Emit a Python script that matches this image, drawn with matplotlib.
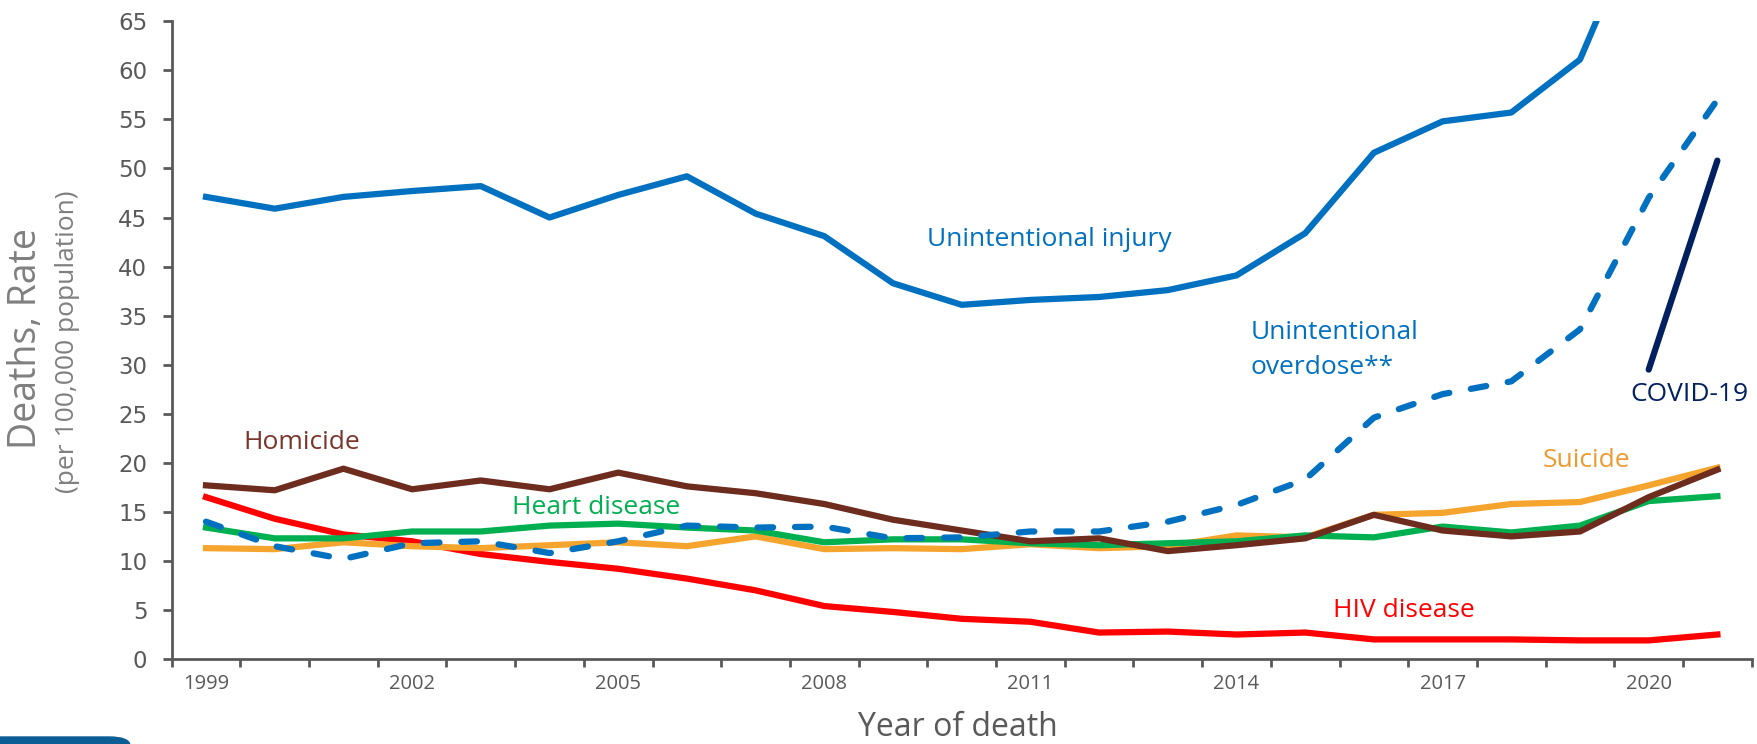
import numpy as np
import matplotlib
matplotlib.use("Agg")
import matplotlib.pyplot as plt
from matplotlib.patches import FancyBboxPatch

plt.rcParams['font.family'] = ['Open Sans', 'DejaVu Sans']

years = list(range(1999, 2022))
tick_years = [1999, 2002, 2005, 2008, 2011, 2014, 2017, 2020]

injury = [47.1, 45.9, 47.1, 47.7, 48.2, 45.0, 47.3, 49.2, 45.4, 43.1, 38.3, 36.1,
          36.6, 36.9, 37.6, 39.1, 43.4, 51.6, 54.8, 55.7, 61.1, 77.5, 85.0]
overdose = [14.0, 11.5, 10.2, 11.8, 12.0, 10.8, 12.0, 13.6, 13.4, 13.5, 12.3, 12.4,
            13.0, 13.0, 14.0, 15.7, 18.3, 24.6, 27.0, 28.3, 33.6, 47.0, 57.0]
homicide = [17.7, 17.2, 19.4, 17.3, 18.2, 17.3, 19.0, 17.6, 16.9, 15.8, 14.2, 13.1,
            12.0, 12.3, 11.0, 11.6, 12.3, 14.7, 13.1, 12.5, 13.0, 16.5, 19.3]
heart = [13.4, 12.3, 12.3, 13.0, 13.0, 13.6, 13.8, 13.4, 13.1, 11.9, 12.2, 12.2,
         11.8, 11.6, 11.8, 12.0, 12.6, 12.4, 13.5, 12.9, 13.6, 16.1, 16.6]
suicide = [11.3, 11.2, 11.9, 11.5, 11.3, 11.6, 11.9, 11.5, 12.5, 11.2, 11.3, 11.2,
           11.7, 11.3, 11.5, 12.6, 12.4, 14.7, 14.9, 15.8, 16.0, 17.7, 19.5]
hiv = [16.5, 14.3, 12.7, 12.0, 10.7, 9.9, 9.2, 8.2, 7.0, 5.4, 4.8, 4.1,
       3.8, 2.7, 2.8, 2.5, 2.7, 2.0, 2.0, 2.0, 1.9, 1.9, 2.5]
covid_years = [2020, 2021]
covid = [29.5, 50.8]

BLUE = '#0070C0'
NAVY = '#002060'
BROWN = '#6E2C1E'
GREEN = '#00B050'
ORANGE = '#F5A52E'
RED = '#FF0000'
GRAY = '#595959'

fig = plt.figure(figsize=(17.57, 7.44), dpi=100)
ax = fig.add_axes([0.0977, 0.1142, 0.8993, 0.8572])

x = np.arange(len(years))
xc = np.array([years.index(y) for y in covid_years])
lw = 4.5

ax.plot(x, hiv, color=RED, lw=lw, solid_joinstyle='round', zorder=3)
ax.plot(x, suicide, color=ORANGE, lw=lw, solid_joinstyle='round', zorder=3)
ax.plot(x, heart, color=GREEN, lw=lw, solid_joinstyle='round', zorder=4)
ax.plot(x, homicide, color=BROWN, lw=lw, solid_joinstyle='round', zorder=5)
ax.plot(x, overdose, color=BLUE, lw=lw, dashes=(2.5, 3.5), dash_capstyle='round', zorder=6)
ax.plot(x, injury, color=BLUE, lw=lw, solid_joinstyle='round', zorder=6)
ax.plot(xc, covid, color=NAVY, lw=lw, solid_capstyle='round', zorder=6)

ax.set_xlim(-0.5, len(years) - 0.5)
ax.set_ylim(0, 65)
ax.set_yticks(np.arange(0, 66, 5))
ax.set_xticks([years.index(y) for y in tick_years])
ax.set_xticklabels([str(y) for y in tick_years])
ax.set_xticks(np.arange(-0.5, len(years)), minor=True)
ax.tick_params(axis='x', which='major', length=0, pad=11, labelsize=14.5, labelcolor=GRAY)
ax.tick_params(axis='x', which='minor', length=6, width=2, color=GRAY, direction='out')
ax.tick_params(axis='y', length=6.5, width=2, color=GRAY, labelsize=16.5, labelcolor=GRAY, pad=11)
for lab in ax.get_yticklabels():
    lab.set_fontfamily('DejaVu Sans')

for s in ['top', 'right']:
    ax.spines[s].set_visible(False)
for s in ['left', 'bottom']:
    ax.spines[s].set_color(GRAY)
    ax.spines[s].set_linewidth(2)

# series labels
fs = 19
ax.text(0.54, 22.1, 'Homicide', color='#7B3429', fontsize=fs, va='center', ha='left')
ax.text(4.45, 15.4, 'Heart disease', color=GREEN, fontsize=fs, va='center', ha='left')
ax.text(10.5, 42.8, 'Unintentional injury', color=BLUE, fontsize=fs, va='center', ha='left')
ax.text(15.2, 33.3, 'Unintentional', color=BLUE, fontsize=fs, va='center', ha='left')
ax.text(15.2, 29.7, 'overdose**', color=BLUE, fontsize=fs, va='center', ha='left')
ax.text(19.45, 20.2, 'Suicide', color='#EE9A2E', fontsize=fs, va='center', ha='left')
ax.text(16.4, 4.9, 'HIV disease', color=RED, fontsize=fs, va='center', ha='left')
ax.text(20.73, 27.0, 'COVID-19', color=NAVY, fontsize=fs, va='center', ha='left')

# axis titles
fig.text(26 / 1757, 1 - 338 / 744, 'Deaths, Rate', rotation=90, color='#7F7F7F',
         fontsize=27, ha='center', va='center')
fig.text(68 / 1757, 1 - 342 / 744, '(per 100,000 population)', rotation=90,
         color='#7F7F7F', fontsize=19, ha='center', va='center')
fig.text(958 / 1757, 1 - 727 / 744, 'Year of death', color=GRAY, fontsize=23,
         ha='center', va='center')

# partial badge at the bottom left corner
fig.patches.append(FancyBboxPatch((-20 / 1757, -30 / 744), 150 / 1757, 37 / 744,
                                  boxstyle='round,pad=0,rounding_size=0.012',
                                  transform=fig.transFigure, color='#0B5E94',
                                  figure=fig, zorder=10))

fig.savefig('out.png', dpi=100)
